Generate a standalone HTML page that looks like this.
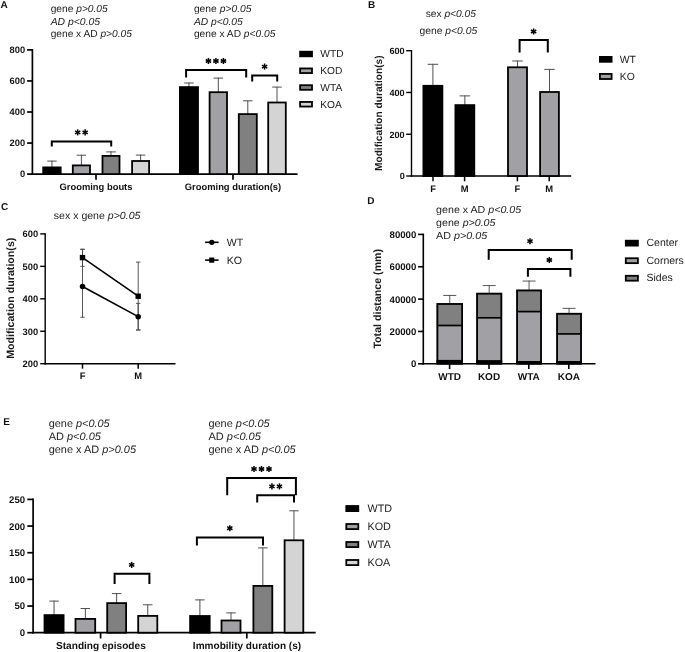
<!DOCTYPE html>
<html><head><meta charset="utf-8"><title>Figure</title>
<style>
html,body{margin:0;padding:0;background:#fff;width:685px;height:652px;overflow:hidden;}
svg{display:block;font-family:"Liberation Sans", sans-serif;text-rendering:geometricPrecision;will-change:transform;}
</style></head><body>
<svg width="685" height="652" viewBox="0 0 685 652" font-family="Liberation Sans">
<text x="0.6" y="7.9" font-size="10" font-weight="bold" text-anchor="start" fill="#111" >A</text>
<text x="368.1" y="7.9" font-size="10" font-weight="bold" text-anchor="start" fill="#111" >B</text>
<text x="1.0" y="209.6" font-size="10" font-weight="bold" text-anchor="start" fill="#111" >C</text>
<text x="367.2" y="203.6" font-size="10" font-weight="bold" text-anchor="start" fill="#111" >D</text>
<text x="3.2" y="425.2" font-size="10" font-weight="bold" text-anchor="start" fill="#111" >E</text>
<line x1="32.4" y1="49.050000000000004" x2="32.4" y2="174.95" stroke="#000" stroke-width="1.7" stroke-linecap="butt"/>
<line x1="27.099999999999998" y1="49.900000000000006" x2="32.4" y2="49.900000000000006" stroke="#000" stroke-width="1.7" stroke-linecap="butt"/>
<text x="25.099999999999998" y="53.248000000000005" font-size="9.3" font-weight="bold" text-anchor="end" fill="#111" >800</text>
<line x1="27.099999999999998" y1="80.94999999999999" x2="32.4" y2="80.94999999999999" stroke="#000" stroke-width="1.7" stroke-linecap="butt"/>
<text x="25.099999999999998" y="84.29799999999999" font-size="9.3" font-weight="bold" text-anchor="end" fill="#111" >600</text>
<line x1="27.099999999999998" y1="112.0" x2="32.4" y2="112.0" stroke="#000" stroke-width="1.7" stroke-linecap="butt"/>
<text x="25.099999999999998" y="115.348" font-size="9.3" font-weight="bold" text-anchor="end" fill="#111" >400</text>
<line x1="27.099999999999998" y1="143.05" x2="32.4" y2="143.05" stroke="#000" stroke-width="1.7" stroke-linecap="butt"/>
<text x="25.099999999999998" y="146.39800000000002" font-size="9.3" font-weight="bold" text-anchor="end" fill="#111" >200</text>
<line x1="27.099999999999998" y1="174.1" x2="32.4" y2="174.1" stroke="#000" stroke-width="1.7" stroke-linecap="butt"/>
<text x="25.099999999999998" y="177.448" font-size="9.3" font-weight="bold" text-anchor="end" fill="#111" >0</text>
<line x1="31.55" y1="174.1" x2="297.6" y2="174.1" stroke="#000" stroke-width="1.7" stroke-linecap="butt"/>
<line x1="96.0" y1="174.1" x2="96.0" y2="179.8" stroke="#000" stroke-width="1.7" stroke-linecap="butt"/>
<line x1="233.0" y1="174.1" x2="233.0" y2="179.8" stroke="#000" stroke-width="1.7" stroke-linecap="butt"/>
<line x1="51.95" y1="167.5" x2="51.95" y2="160.6" stroke="#505050" stroke-width="1.0" stroke-linecap="butt"/>
<line x1="47.2" y1="161.1" x2="56.7" y2="161.1" stroke="#505050" stroke-width="1.0" stroke-linecap="butt"/>
<rect x="43.199999999999996" y="167.4" width="17.500000000000004" height="6.699999999999994" fill="#000" stroke="#000" stroke-width="1.8"/>
<line x1="81.4" y1="165.5" x2="81.4" y2="154.7" stroke="#505050" stroke-width="1.0" stroke-linecap="butt"/>
<line x1="76.65" y1="155.2" x2="86.15" y2="155.2" stroke="#505050" stroke-width="1.0" stroke-linecap="butt"/>
<rect x="72.80000000000001" y="165.4" width="17.2" height="8.699999999999994" fill="#a1a0a5" stroke="#000" stroke-width="1.8"/>
<line x1="111.0" y1="156.0" x2="111.0" y2="151.4" stroke="#505050" stroke-width="1.0" stroke-linecap="butt"/>
<line x1="106.25" y1="151.9" x2="115.75" y2="151.9" stroke="#505050" stroke-width="1.0" stroke-linecap="butt"/>
<rect x="102.5" y="155.9" width="17.00000000000001" height="18.199999999999996" fill="#808080" stroke="#000" stroke-width="1.8"/>
<line x1="140.6" y1="161.1" x2="140.6" y2="154.6" stroke="#505050" stroke-width="1.0" stroke-linecap="butt"/>
<line x1="135.85" y1="155.1" x2="145.35" y2="155.1" stroke="#505050" stroke-width="1.0" stroke-linecap="butt"/>
<rect x="132.1" y="161.0" width="17.00000000000001" height="13.1" fill="#d4d4d4" stroke="#000" stroke-width="1.8"/>
<line x1="188.95" y1="87.2" x2="188.95" y2="82.5" stroke="#505050" stroke-width="1.0" stroke-linecap="butt"/>
<line x1="184.2" y1="83.0" x2="193.7" y2="83.0" stroke="#505050" stroke-width="1.0" stroke-linecap="butt"/>
<rect x="179.9" y="87.10000000000001" width="18.100000000000005" height="86.99999999999999" fill="#000" stroke="#000" stroke-width="1.8"/>
<line x1="218.3" y1="92.3" x2="218.3" y2="77.6" stroke="#505050" stroke-width="1.0" stroke-linecap="butt"/>
<line x1="213.55" y1="78.1" x2="223.05" y2="78.1" stroke="#505050" stroke-width="1.0" stroke-linecap="butt"/>
<rect x="209.6" y="92.2" width="17.400000000000016" height="81.89999999999999" fill="#a1a0a5" stroke="#000" stroke-width="1.8"/>
<line x1="247.8" y1="114.2" x2="247.8" y2="100.3" stroke="#505050" stroke-width="1.0" stroke-linecap="butt"/>
<line x1="243.05" y1="100.8" x2="252.55" y2="100.8" stroke="#505050" stroke-width="1.0" stroke-linecap="butt"/>
<rect x="238.8" y="114.10000000000001" width="17.999999999999982" height="59.99999999999999" fill="#808080" stroke="#000" stroke-width="1.8"/>
<line x1="277.0" y1="102.6" x2="277.0" y2="86.6" stroke="#505050" stroke-width="1.0" stroke-linecap="butt"/>
<line x1="272.25" y1="87.1" x2="281.75" y2="87.1" stroke="#505050" stroke-width="1.0" stroke-linecap="butt"/>
<rect x="268.2" y="102.5" width="17.599999999999977" height="71.6" fill="#d4d4d4" stroke="#000" stroke-width="1.8"/>
<path d="M51.8 146.5 L51.8 141.4 L111.2 141.4 L111.2 146.5" fill="none" stroke="#000" stroke-width="2" stroke-linejoin="miter"/>
<line x1="77.65" y1="129.35" x2="77.65" y2="135.45" stroke="#000" stroke-width="1.5" stroke-linecap="butt"/>
<line x1="75.01" y1="130.88" x2="80.29" y2="133.93" stroke="#000" stroke-width="1.5" stroke-linecap="butt"/>
<line x1="80.29" y1="130.88" x2="75.01" y2="133.93" stroke="#000" stroke-width="1.5" stroke-linecap="butt"/>
<line x1="85.15" y1="129.35" x2="85.15" y2="135.45" stroke="#000" stroke-width="1.5" stroke-linecap="butt"/>
<line x1="82.51" y1="130.88" x2="87.79" y2="133.93" stroke="#000" stroke-width="1.5" stroke-linecap="butt"/>
<line x1="87.79" y1="130.88" x2="82.51" y2="133.93" stroke="#000" stroke-width="1.5" stroke-linecap="butt"/>
<path d="M186.1 77.6 L186.1 69.9 L246.2 69.9 L246.2 77.6" fill="none" stroke="#000" stroke-width="2" stroke-linejoin="miter"/>
<line x1="208.4" y1="57.95" x2="208.4" y2="64.05" stroke="#000" stroke-width="1.5" stroke-linecap="butt"/>
<line x1="205.76" y1="59.48" x2="211.04" y2="62.52" stroke="#000" stroke-width="1.5" stroke-linecap="butt"/>
<line x1="211.04" y1="59.48" x2="205.76" y2="62.52" stroke="#000" stroke-width="1.5" stroke-linecap="butt"/>
<line x1="215.9" y1="57.95" x2="215.9" y2="64.05" stroke="#000" stroke-width="1.5" stroke-linecap="butt"/>
<line x1="213.26" y1="59.48" x2="218.54" y2="62.52" stroke="#000" stroke-width="1.5" stroke-linecap="butt"/>
<line x1="218.54" y1="59.48" x2="213.26" y2="62.52" stroke="#000" stroke-width="1.5" stroke-linecap="butt"/>
<line x1="223.4" y1="57.95" x2="223.4" y2="64.05" stroke="#000" stroke-width="1.5" stroke-linecap="butt"/>
<line x1="220.76" y1="59.48" x2="226.04" y2="62.52" stroke="#000" stroke-width="1.5" stroke-linecap="butt"/>
<line x1="226.04" y1="59.48" x2="220.76" y2="62.52" stroke="#000" stroke-width="1.5" stroke-linecap="butt"/>
<path d="M252.2 81.6 L252.2 75.5 L277.2 75.5 L277.2 81.6" fill="none" stroke="#000" stroke-width="2" stroke-linejoin="miter"/>
<line x1="264.6" y1="63.55" x2="264.6" y2="69.65" stroke="#000" stroke-width="1.5" stroke-linecap="butt"/>
<line x1="261.96" y1="65.07" x2="267.24" y2="68.12" stroke="#000" stroke-width="1.5" stroke-linecap="butt"/>
<line x1="267.24" y1="65.07" x2="261.96" y2="68.12" stroke="#000" stroke-width="1.5" stroke-linecap="butt"/>
<text x="96.0" y="189.6" font-size="9.4" font-weight="bold" text-anchor="middle" fill="#111" >Grooming bouts</text>
<text x="233.0" y="189.6" font-size="9.4" font-weight="bold" text-anchor="middle" fill="#111" >Grooming duration(s)</text>
<rect x="300.09999999999997" y="51.699999999999996" width="11.899999999999999" height="4.6000000000000005" fill="#000" stroke="#000" stroke-width="1.8"/>
<text x="320.3" y="57.3" font-size="10.2" font-weight="normal" text-anchor="start" fill="#222" >WTD</text>
<rect x="300.09999999999997" y="68.45" width="11.899999999999999" height="4.6000000000000005" fill="#a1a0a5" stroke="#000" stroke-width="1.8"/>
<text x="320.3" y="74.05" font-size="10.2" font-weight="normal" text-anchor="start" fill="#222" >KOD</text>
<rect x="300.09999999999997" y="85.2" width="11.899999999999999" height="4.6000000000000005" fill="#808080" stroke="#000" stroke-width="1.8"/>
<text x="320.3" y="90.8" font-size="10.2" font-weight="normal" text-anchor="start" fill="#222" >WTA</text>
<rect x="300.09999999999997" y="101.95" width="11.899999999999999" height="4.6000000000000005" fill="#d4d4d4" stroke="#000" stroke-width="1.8"/>
<text x="320.3" y="107.55" font-size="10.2" font-weight="normal" text-anchor="start" fill="#222" >KOA</text>
<text x="50.7" y="12.3" font-size="10.2" fill="#1c1c1c" xml:space="preserve" textLength="57.0" lengthAdjust="spacingAndGlyphs"><tspan>gene </tspan><tspan font-style="italic">p&gt;0.05</tspan></text>
<text x="50.7" y="24.5" font-size="10.2" fill="#1c1c1c" xml:space="preserve" textLength="49.4" lengthAdjust="spacingAndGlyphs"><tspan font-style="italic">AD p&lt;0.05</tspan></text>
<text x="50.7" y="37.2" font-size="10.2" fill="#1c1c1c" xml:space="preserve" textLength="81.1" lengthAdjust="spacingAndGlyphs"><tspan>gene x AD </tspan><tspan font-style="italic">p&gt;0.05</tspan></text>
<text x="193.9" y="12.3" font-size="10.2" fill="#1c1c1c" xml:space="preserve" textLength="57.6" lengthAdjust="spacingAndGlyphs"><tspan>gene </tspan><tspan font-style="italic">p&gt;0.05</tspan></text>
<text x="193.9" y="24.5" font-size="10.2" fill="#1c1c1c" xml:space="preserve" textLength="48.8" lengthAdjust="spacingAndGlyphs"><tspan font-style="italic">AD p&lt;0.05</tspan></text>
<text x="193.9" y="37.2" font-size="10.2" fill="#1c1c1c" xml:space="preserve" textLength="81.5" lengthAdjust="spacingAndGlyphs"><tspan>gene x AD </tspan><tspan font-style="italic">p&lt;0.05</tspan></text>
<line x1="411.5" y1="50.0" x2="411.5" y2="176.7" stroke="#000" stroke-width="1.4" stroke-linecap="butt"/>
<line x1="406.2" y1="50.7" x2="411.5" y2="50.7" stroke="#000" stroke-width="1.4" stroke-linecap="butt"/>
<text x="404.7" y="53.976" font-size="9.1" font-weight="bold" text-anchor="end" fill="#111" >600</text>
<line x1="406.2" y1="92.46666666666667" x2="411.5" y2="92.46666666666667" stroke="#000" stroke-width="1.4" stroke-linecap="butt"/>
<text x="404.7" y="95.74266666666666" font-size="9.1" font-weight="bold" text-anchor="end" fill="#111" >400</text>
<line x1="406.2" y1="134.23333333333335" x2="411.5" y2="134.23333333333335" stroke="#000" stroke-width="1.4" stroke-linecap="butt"/>
<text x="404.7" y="137.50933333333336" font-size="9.1" font-weight="bold" text-anchor="end" fill="#111" >200</text>
<line x1="406.2" y1="176.0" x2="411.5" y2="176.0" stroke="#000" stroke-width="1.4" stroke-linecap="butt"/>
<text x="404.7" y="179.276" font-size="9.1" font-weight="bold" text-anchor="end" fill="#111" >0</text>
<line x1="410.8" y1="176.0" x2="571.2" y2="176.0" stroke="#000" stroke-width="1.4" stroke-linecap="butt"/>
<line x1="433.0" y1="176.0" x2="433.0" y2="181.3" stroke="#000" stroke-width="1.5" stroke-linecap="butt"/>
<line x1="464.6" y1="176.0" x2="464.6" y2="181.3" stroke="#000" stroke-width="1.5" stroke-linecap="butt"/>
<line x1="517.4" y1="176.0" x2="517.4" y2="181.3" stroke="#000" stroke-width="1.5" stroke-linecap="butt"/>
<line x1="549.2" y1="176.0" x2="549.2" y2="181.3" stroke="#000" stroke-width="1.5" stroke-linecap="butt"/>
<line x1="432.9" y1="85.9" x2="432.9" y2="63.8" stroke="#505050" stroke-width="1.0" stroke-linecap="butt"/>
<line x1="427.65" y1="64.3" x2="438.15" y2="64.3" stroke="#505050" stroke-width="1.0" stroke-linecap="butt"/>
<rect x="423.4" y="85.80000000000001" width="19.00000000000001" height="90.19999999999999" fill="#000" stroke="#000" stroke-width="1.8"/>
<line x1="464.85" y1="105.2" x2="464.85" y2="95.4" stroke="#505050" stroke-width="1.0" stroke-linecap="butt"/>
<line x1="459.6" y1="95.9" x2="470.1" y2="95.9" stroke="#505050" stroke-width="1.0" stroke-linecap="butt"/>
<rect x="455.4" y="105.10000000000001" width="18.899999999999988" height="70.89999999999999" fill="#000" stroke="#000" stroke-width="1.8"/>
<line x1="517.5" y1="67.4" x2="517.5" y2="60.5" stroke="#505050" stroke-width="1.0" stroke-linecap="butt"/>
<line x1="512.25" y1="61.0" x2="522.75" y2="61.0" stroke="#505050" stroke-width="1.0" stroke-linecap="butt"/>
<rect x="508.0" y="67.30000000000001" width="18.999999999999954" height="108.69999999999999" fill="#a1a0a5" stroke="#000" stroke-width="1.8"/>
<line x1="549.5" y1="92.1" x2="549.5" y2="68.9" stroke="#505050" stroke-width="1.0" stroke-linecap="butt"/>
<line x1="544.25" y1="69.4" x2="554.75" y2="69.4" stroke="#505050" stroke-width="1.0" stroke-linecap="butt"/>
<rect x="540.1" y="92.0" width="18.79999999999991" height="84.0" fill="#a1a0a5" stroke="#000" stroke-width="1.8"/>
<path d="M519.6 52.6 L519.6 40.1 L547.8 40.1 L547.8 52.6" fill="none" stroke="#000" stroke-width="2" stroke-linejoin="miter"/>
<line x1="533.6" y1="28.45" x2="533.6" y2="34.55" stroke="#000" stroke-width="1.5" stroke-linecap="butt"/>
<line x1="530.96" y1="29.98" x2="536.24" y2="33.02" stroke="#000" stroke-width="1.5" stroke-linecap="butt"/>
<line x1="536.24" y1="29.98" x2="530.96" y2="33.02" stroke="#000" stroke-width="1.5" stroke-linecap="butt"/>
<text x="433.0" y="191.8" font-size="9.4" font-weight="bold" text-anchor="middle" fill="#111" >F</text>
<text x="464.6" y="191.8" font-size="9.4" font-weight="bold" text-anchor="middle" fill="#111" >M</text>
<text x="517.4" y="191.8" font-size="9.4" font-weight="bold" text-anchor="middle" fill="#111" >F</text>
<text x="549.2" y="191.8" font-size="9.4" font-weight="bold" text-anchor="middle" fill="#111" >M</text>
<text transform="translate(382.2 113.2) rotate(-90)" font-size="10.17" font-weight="bold" text-anchor="middle" fill="#1a1a1a">Modification duration(s)</text>
<rect x="599.9" y="56.9" width="11.7" height="4.9" fill="#000" stroke="#000" stroke-width="1.8"/>
<rect x="599.9" y="73.9" width="11.7" height="5.1000000000000005" fill="#a1a0a5" stroke="#000" stroke-width="1.8"/>
<text x="619.8" y="62.7" font-size="10.4" font-weight="normal" text-anchor="start" fill="#222" >WT</text>
<text x="619.8" y="79.6" font-size="10.4" font-weight="normal" text-anchor="start" fill="#222" >KO</text>
<text x="425.7" y="16.5" font-size="10.2" fill="#1c1c1c" xml:space="preserve" textLength="50.3" lengthAdjust="spacingAndGlyphs"><tspan>sex </tspan><tspan font-style="italic">p&lt;0.05</tspan></text>
<text x="419.6" y="34.0" font-size="10.2" fill="#1c1c1c" xml:space="preserve" textLength="57.6" lengthAdjust="spacingAndGlyphs"><tspan>gene </tspan><tspan font-style="italic">p&lt;0.05</tspan></text>
<line x1="45.2" y1="233.20000000000002" x2="45.2" y2="364.4" stroke="#000" stroke-width="1.4" stroke-linecap="butt"/>
<line x1="40.2" y1="233.9" x2="45.2" y2="233.9" stroke="#000" stroke-width="1.4" stroke-linecap="butt"/>
<text x="38.1" y="237.24800000000002" font-size="9.3" font-weight="bold" text-anchor="end" fill="#111" >600</text>
<line x1="40.2" y1="266.35" x2="45.2" y2="266.35" stroke="#000" stroke-width="1.4" stroke-linecap="butt"/>
<text x="38.1" y="269.69800000000004" font-size="9.3" font-weight="bold" text-anchor="end" fill="#111" >500</text>
<line x1="40.2" y1="298.8" x2="45.2" y2="298.8" stroke="#000" stroke-width="1.4" stroke-linecap="butt"/>
<text x="38.1" y="302.148" font-size="9.3" font-weight="bold" text-anchor="end" fill="#111" >400</text>
<line x1="40.2" y1="331.25" x2="45.2" y2="331.25" stroke="#000" stroke-width="1.4" stroke-linecap="butt"/>
<text x="38.1" y="334.598" font-size="9.3" font-weight="bold" text-anchor="end" fill="#111" >300</text>
<line x1="40.2" y1="363.7" x2="45.2" y2="363.7" stroke="#000" stroke-width="1.4" stroke-linecap="butt"/>
<text x="38.1" y="367.048" font-size="9.3" font-weight="bold" text-anchor="end" fill="#111" >200</text>
<line x1="44.5" y1="363.7" x2="175.5" y2="363.7" stroke="#000" stroke-width="1.4" stroke-linecap="butt"/>
<line x1="82.5" y1="363.7" x2="82.5" y2="368.7" stroke="#000" stroke-width="1.5" stroke-linecap="butt"/>
<line x1="138.2" y1="363.7" x2="138.2" y2="368.7" stroke="#000" stroke-width="1.5" stroke-linecap="butt"/>
<line x1="82.5" y1="249.1515" x2="82.5" y2="317.2965" stroke="#444" stroke-width="0.9" stroke-linecap="butt"/>
<line x1="80.3" y1="249.1515" x2="84.7" y2="249.1515" stroke="#444" stroke-width="0.9" stroke-linecap="butt"/>
<line x1="80.3" y1="317.2965" x2="84.7" y2="317.2965" stroke="#444" stroke-width="0.9" stroke-linecap="butt"/>
<line x1="82.5" y1="249.476" x2="82.5" y2="266.35" stroke="#444" stroke-width="0.9" stroke-linecap="butt"/>
<line x1="80.3" y1="249.476" x2="84.7" y2="249.476" stroke="#444" stroke-width="0.9" stroke-linecap="butt"/>
<line x1="80.3" y1="266.35" x2="84.7" y2="266.35" stroke="#444" stroke-width="0.9" stroke-linecap="butt"/>
<line x1="138.2" y1="262.1315" x2="138.2" y2="329.952" stroke="#444" stroke-width="0.9" stroke-linecap="butt"/>
<line x1="136.0" y1="262.1315" x2="140.39999999999998" y2="262.1315" stroke="#444" stroke-width="0.9" stroke-linecap="butt"/>
<line x1="136.0" y1="329.952" x2="140.39999999999998" y2="329.952" stroke="#444" stroke-width="0.9" stroke-linecap="butt"/>
<line x1="138.2" y1="303.343" x2="138.2" y2="329.952" stroke="#444" stroke-width="0.9" stroke-linecap="butt"/>
<line x1="136.0" y1="303.343" x2="140.39999999999998" y2="303.343" stroke="#444" stroke-width="0.9" stroke-linecap="butt"/>
<line x1="136.0" y1="329.952" x2="140.39999999999998" y2="329.952" stroke="#444" stroke-width="0.9" stroke-linecap="butt"/>
<line x1="82.5" y1="257.5885" x2="138.2" y2="296.204" stroke="#000" stroke-width="1.6" stroke-linecap="butt"/>
<line x1="82.5" y1="286.469" x2="138.2" y2="316.6475" stroke="#000" stroke-width="1.6" stroke-linecap="butt"/>
<rect x="79.8" y="254.88850000000002" width="5.4" height="5.4" fill="#000"/>
<rect x="135.5" y="293.504" width="5.4" height="5.4" fill="#000"/>
<circle cx="82.5" cy="286.469" r="2.75" fill="#000"/>
<circle cx="138.2" cy="316.6475" r="2.75" fill="#000"/>
<text x="82.5" y="379.0" font-size="9.4" font-weight="bold" text-anchor="middle" fill="#111" >F</text>
<text x="138.2" y="379.0" font-size="9.4" font-weight="bold" text-anchor="middle" fill="#111" >M</text>
<text transform="translate(14.3 298.2) rotate(-90)" font-size="10.65" font-weight="bold" text-anchor="middle" fill="#1a1a1a">Modification duration(s)</text>
<text x="53.8" y="218.8" font-size="10.4" fill="#1c1c1c" xml:space="preserve" textLength="86.6" lengthAdjust="spacingAndGlyphs"><tspan>sex x gene </tspan><tspan font-style="italic">p&gt;0.05</tspan></text>
<line x1="205.1" y1="242.3" x2="218.6" y2="242.3" stroke="#000" stroke-width="1.6" stroke-linecap="butt"/>
<circle cx="211.8" cy="242.3" r="2.65" fill="#000"/>
<line x1="205.1" y1="260.1" x2="218.6" y2="260.1" stroke="#000" stroke-width="1.6" stroke-linecap="butt"/>
<rect x="209.2" y="257.5" width="5.1" height="5.2" fill="#000"/>
<text x="226.8" y="246.0" font-size="10.6" font-weight="normal" text-anchor="start" fill="#222" >WT</text>
<text x="226.8" y="263.6" font-size="10.6" font-weight="normal" text-anchor="start" fill="#222" >KO</text>
<line x1="423.3" y1="233.6" x2="423.3" y2="364.6" stroke="#000" stroke-width="1.6" stroke-linecap="butt"/>
<line x1="418.1" y1="234.4" x2="423.3" y2="234.4" stroke="#000" stroke-width="1.6" stroke-linecap="butt"/>
<text x="416.3" y="237.874" font-size="9.65" font-weight="bold" text-anchor="end" fill="#111" >80000</text>
<line x1="418.1" y1="266.75" x2="423.3" y2="266.75" stroke="#000" stroke-width="1.6" stroke-linecap="butt"/>
<text x="416.3" y="270.224" font-size="9.65" font-weight="bold" text-anchor="end" fill="#111" >60000</text>
<line x1="418.1" y1="299.1" x2="423.3" y2="299.1" stroke="#000" stroke-width="1.6" stroke-linecap="butt"/>
<text x="416.3" y="302.574" font-size="9.65" font-weight="bold" text-anchor="end" fill="#111" >40000</text>
<line x1="418.1" y1="331.45" x2="423.3" y2="331.45" stroke="#000" stroke-width="1.6" stroke-linecap="butt"/>
<text x="416.3" y="334.924" font-size="9.65" font-weight="bold" text-anchor="end" fill="#111" >20000</text>
<line x1="418.1" y1="363.8" x2="423.3" y2="363.8" stroke="#000" stroke-width="1.6" stroke-linecap="butt"/>
<text x="416.3" y="367.274" font-size="9.65" font-weight="bold" text-anchor="end" fill="#111" >0</text>
<line x1="422.5" y1="363.8" x2="595.5" y2="363.8" stroke="#000" stroke-width="1.6" stroke-linecap="butt"/>
<line x1="449.75" y1="304.1" x2="449.75" y2="295.0" stroke="#444" stroke-width="0.9" stroke-linecap="butt"/>
<line x1="443.25" y1="295.45" x2="456.25" y2="295.45" stroke="#444" stroke-width="0.9" stroke-linecap="butt"/>
<rect x="436.5" y="303.1" width="26.5" height="22.399999999999977" fill="#808080"/>
<rect x="436.5" y="325.5" width="26.5" height="38.30000000000001" fill="#a1a0a5"/>
<rect x="436.5" y="359.90000000000003" width="26.5" height="3.9" fill="#000"/>
<line x1="437.4" y1="325.5" x2="462.1" y2="325.5" stroke="#000" stroke-width="1.7" stroke-linecap="butt"/>
<rect x="437.4" y="304.0" width="24.7" height="59.79999999999999" fill="none" stroke="#000" stroke-width="1.8"/>
<line x1="489.2" y1="293.8" x2="489.2" y2="285.1" stroke="#444" stroke-width="0.9" stroke-linecap="butt"/>
<line x1="482.7" y1="285.55" x2="495.7" y2="285.55" stroke="#444" stroke-width="0.9" stroke-linecap="butt"/>
<rect x="476.2" y="292.8" width="26.0" height="25.0" fill="#808080"/>
<rect x="476.2" y="317.8" width="26.0" height="46.0" fill="#a1a0a5"/>
<rect x="476.2" y="360.1" width="26.0" height="3.7" fill="#000"/>
<line x1="477.09999999999997" y1="317.8" x2="501.3" y2="317.8" stroke="#000" stroke-width="1.7" stroke-linecap="butt"/>
<rect x="477.09999999999997" y="293.7" width="24.2" height="70.1" fill="none" stroke="#000" stroke-width="1.8"/>
<line x1="529.05" y1="290.6" x2="529.05" y2="280.6" stroke="#444" stroke-width="0.9" stroke-linecap="butt"/>
<line x1="522.55" y1="281.05" x2="535.55" y2="281.05" stroke="#444" stroke-width="0.9" stroke-linecap="butt"/>
<rect x="516.2" y="289.6" width="25.699999999999932" height="22.0" fill="#808080"/>
<rect x="516.2" y="311.6" width="25.699999999999932" height="52.19999999999999" fill="#a1a0a5"/>
<rect x="516.2" y="361.0" width="25.699999999999932" height="2.8" fill="#000"/>
<line x1="517.1" y1="311.6" x2="541.0" y2="311.6" stroke="#000" stroke-width="1.7" stroke-linecap="butt"/>
<rect x="517.1" y="290.5" width="23.89999999999993" height="73.29999999999998" fill="none" stroke="#000" stroke-width="1.8"/>
<line x1="569.05" y1="313.9" x2="569.05" y2="307.9" stroke="#444" stroke-width="0.9" stroke-linecap="butt"/>
<line x1="562.55" y1="308.34999999999997" x2="575.55" y2="308.34999999999997" stroke="#444" stroke-width="0.9" stroke-linecap="butt"/>
<rect x="556.2" y="312.9" width="25.699999999999932" height="21.0" fill="#808080"/>
<rect x="556.2" y="333.9" width="25.699999999999932" height="29.900000000000034" fill="#a1a0a5"/>
<rect x="556.2" y="361.0" width="25.699999999999932" height="2.8" fill="#000"/>
<line x1="557.1" y1="333.9" x2="581.0" y2="333.9" stroke="#000" stroke-width="1.7" stroke-linecap="butt"/>
<rect x="557.1" y="313.79999999999995" width="23.89999999999993" height="50.000000000000036" fill="none" stroke="#000" stroke-width="1.8"/>
<line x1="449.6" y1="363.8" x2="449.6" y2="369.1" stroke="#000" stroke-width="1.6" stroke-linecap="butt"/>
<text x="449.6" y="379.8" font-size="10" font-weight="bold" text-anchor="middle" fill="#111" >WTD</text>
<line x1="489.0" y1="363.8" x2="489.0" y2="369.1" stroke="#000" stroke-width="1.6" stroke-linecap="butt"/>
<text x="489.0" y="379.8" font-size="10" font-weight="bold" text-anchor="middle" fill="#111" >KOD</text>
<line x1="528.8" y1="363.8" x2="528.8" y2="369.1" stroke="#000" stroke-width="1.6" stroke-linecap="butt"/>
<text x="528.8" y="379.8" font-size="10" font-weight="bold" text-anchor="middle" fill="#111" >WTA</text>
<line x1="568.8" y1="363.8" x2="568.8" y2="369.1" stroke="#000" stroke-width="1.6" stroke-linecap="butt"/>
<text x="568.8" y="379.8" font-size="10" font-weight="bold" text-anchor="middle" fill="#111" >KOA</text>
<path d="M488.7 259.8 L488.7 250.0 L571.7 250.0 L571.7 259.8" fill="none" stroke="#000" stroke-width="2" stroke-linejoin="miter"/>
<line x1="530.0" y1="238.15" x2="530.0" y2="244.25" stroke="#000" stroke-width="1.5" stroke-linecap="butt"/>
<line x1="527.36" y1="239.67" x2="532.64" y2="242.72" stroke="#000" stroke-width="1.5" stroke-linecap="butt"/>
<line x1="532.64" y1="239.67" x2="527.36" y2="242.72" stroke="#000" stroke-width="1.5" stroke-linecap="butt"/>
<path d="M527.9 276.8 L527.9 268.9 L570.4 268.9 L570.4 276.8" fill="none" stroke="#000" stroke-width="2" stroke-linejoin="miter"/>
<line x1="549.3" y1="256.95" x2="549.3" y2="263.05" stroke="#000" stroke-width="1.5" stroke-linecap="butt"/>
<line x1="546.66" y1="258.48" x2="551.94" y2="261.52" stroke="#000" stroke-width="1.5" stroke-linecap="butt"/>
<line x1="551.94" y1="258.48" x2="546.66" y2="261.52" stroke="#000" stroke-width="1.5" stroke-linecap="butt"/>
<text transform="translate(380.8 298.75) rotate(-90)" font-size="10.65" font-weight="bold" text-anchor="middle" fill="#1a1a1a">Total distance (mm)</text>
<rect x="625.8" y="240.70000000000002" width="12.1" height="4.9" fill="#000" stroke="#000" stroke-width="1.8"/>
<text x="646.5" y="246.20000000000002" font-size="10.5" font-weight="normal" text-anchor="start" fill="#222" >Center</text>
<rect x="625.8" y="258.25" width="12.1" height="4.9" fill="#a1a0a5" stroke="#000" stroke-width="1.8"/>
<text x="646.5" y="263.75" font-size="10.5" font-weight="normal" text-anchor="start" fill="#222" >Corners</text>
<rect x="625.8" y="275.8" width="12.1" height="4.9" fill="#808080" stroke="#000" stroke-width="1.8"/>
<text x="646.5" y="281.3" font-size="10.5" font-weight="normal" text-anchor="start" fill="#222" >Sides</text>
<text x="436.1" y="213.4" font-size="10.2" fill="#1c1c1c" xml:space="preserve" textLength="85.1" lengthAdjust="spacingAndGlyphs"><tspan>gene x AD </tspan><tspan font-style="italic">p&lt;0.05</tspan></text>
<text x="436.1" y="226.0" font-size="10.2" fill="#1c1c1c" xml:space="preserve" textLength="59.3" lengthAdjust="spacingAndGlyphs"><tspan>gene </tspan><tspan font-style="italic">p&gt;0.05</tspan></text>
<text x="436.1" y="238.7" font-size="10.2" fill="#1c1c1c" xml:space="preserve" textLength="51.1" lengthAdjust="spacingAndGlyphs"><tspan>AD </tspan><tspan font-style="italic">p&gt;0.05</tspan></text>
<line x1="33.1" y1="498.54999999999995" x2="33.1" y2="633.5500000000001" stroke="#000" stroke-width="1.7" stroke-linecap="butt"/>
<line x1="27.3" y1="499.4" x2="33.1" y2="499.4" stroke="#000" stroke-width="1.7" stroke-linecap="butt"/>
<text x="25.1" y="502.856" font-size="9.6" font-weight="bold" text-anchor="end" fill="#111" >250</text>
<line x1="27.3" y1="526.06" x2="33.1" y2="526.06" stroke="#000" stroke-width="1.7" stroke-linecap="butt"/>
<text x="25.1" y="529.516" font-size="9.6" font-weight="bold" text-anchor="end" fill="#111" >200</text>
<line x1="27.3" y1="552.72" x2="33.1" y2="552.72" stroke="#000" stroke-width="1.7" stroke-linecap="butt"/>
<text x="25.1" y="556.176" font-size="9.6" font-weight="bold" text-anchor="end" fill="#111" >150</text>
<line x1="27.3" y1="579.38" x2="33.1" y2="579.38" stroke="#000" stroke-width="1.7" stroke-linecap="butt"/>
<text x="25.1" y="582.836" font-size="9.6" font-weight="bold" text-anchor="end" fill="#111" >100</text>
<line x1="27.3" y1="606.0400000000001" x2="33.1" y2="606.0400000000001" stroke="#000" stroke-width="1.7" stroke-linecap="butt"/>
<text x="25.1" y="609.4960000000001" font-size="9.6" font-weight="bold" text-anchor="end" fill="#111" >50</text>
<line x1="27.3" y1="632.7" x2="33.1" y2="632.7" stroke="#000" stroke-width="1.7" stroke-linecap="butt"/>
<text x="25.1" y="636.1560000000001" font-size="9.6" font-weight="bold" text-anchor="end" fill="#111" >0</text>
<line x1="32.25" y1="632.7" x2="315.7" y2="632.7" stroke="#000" stroke-width="1.7" stroke-linecap="butt"/>
<line x1="100.6" y1="632.7" x2="100.6" y2="638.5" stroke="#000" stroke-width="1.7" stroke-linecap="butt"/>
<line x1="246.8" y1="632.7" x2="246.8" y2="638.5" stroke="#000" stroke-width="1.7" stroke-linecap="butt"/>
<line x1="54.05" y1="615.2" x2="54.05" y2="600.6" stroke="#505050" stroke-width="1.0" stroke-linecap="butt"/>
<line x1="49.3" y1="601.1" x2="58.8" y2="601.1" stroke="#505050" stroke-width="1.0" stroke-linecap="butt"/>
<rect x="44.5" y="615.1" width="19.099999999999998" height="17.6" fill="#000" stroke="#000" stroke-width="1.8"/>
<line x1="85.35" y1="619.0" x2="85.35" y2="608.0" stroke="#505050" stroke-width="1.0" stroke-linecap="butt"/>
<line x1="80.6" y1="608.5" x2="90.1" y2="608.5" stroke="#505050" stroke-width="1.0" stroke-linecap="butt"/>
<rect x="75.5" y="618.9" width="19.7" height="13.800000000000045" fill="#a1a0a5" stroke="#000" stroke-width="1.8"/>
<line x1="116.65" y1="603.2" x2="116.65" y2="593.1" stroke="#505050" stroke-width="1.0" stroke-linecap="butt"/>
<line x1="111.9" y1="593.6" x2="121.4" y2="593.6" stroke="#505050" stroke-width="1.0" stroke-linecap="butt"/>
<rect x="107.2" y="603.1" width="18.900000000000002" height="29.6" fill="#808080" stroke="#000" stroke-width="1.8"/>
<line x1="147.75" y1="616.0" x2="147.75" y2="604.3" stroke="#505050" stroke-width="1.0" stroke-linecap="butt"/>
<line x1="143.0" y1="604.8" x2="152.5" y2="604.8" stroke="#505050" stroke-width="1.0" stroke-linecap="butt"/>
<rect x="138.20000000000002" y="615.9" width="19.099999999999977" height="16.800000000000047" fill="#d4d4d4" stroke="#000" stroke-width="1.8"/>
<line x1="199.89999999999998" y1="616.1" x2="199.89999999999998" y2="599.4" stroke="#505050" stroke-width="1.0" stroke-linecap="butt"/>
<line x1="195.14999999999998" y1="599.9" x2="204.64999999999998" y2="599.9" stroke="#505050" stroke-width="1.0" stroke-linecap="butt"/>
<rect x="190.1" y="616.0" width="19.600000000000005" height="16.700000000000024" fill="#000" stroke="#000" stroke-width="1.8"/>
<line x1="231.0" y1="620.6" x2="231.0" y2="612.4" stroke="#505050" stroke-width="1.0" stroke-linecap="butt"/>
<line x1="226.25" y1="612.9" x2="235.75" y2="612.9" stroke="#505050" stroke-width="1.0" stroke-linecap="butt"/>
<rect x="221.5" y="620.5" width="19.00000000000001" height="12.200000000000022" fill="#a1a0a5" stroke="#000" stroke-width="1.8"/>
<line x1="262.85" y1="586.0" x2="262.85" y2="547.4" stroke="#505050" stroke-width="1.0" stroke-linecap="butt"/>
<line x1="258.1" y1="547.9" x2="267.6" y2="547.9" stroke="#505050" stroke-width="1.0" stroke-linecap="butt"/>
<rect x="253.4" y="585.9" width="18.899999999999988" height="46.80000000000005" fill="#808080" stroke="#000" stroke-width="1.8"/>
<line x1="293.95" y1="540.4" x2="293.95" y2="510.3" stroke="#505050" stroke-width="1.0" stroke-linecap="butt"/>
<line x1="289.2" y1="510.8" x2="298.7" y2="510.8" stroke="#505050" stroke-width="1.0" stroke-linecap="butt"/>
<rect x="284.59999999999997" y="540.3" width="18.7" height="92.40000000000006" fill="#d4d4d4" stroke="#000" stroke-width="1.8"/>
<path d="M114.6 584.0 L114.6 573.8 L149.4 573.8 L149.4 584.0" fill="none" stroke="#000" stroke-width="2" stroke-linejoin="miter"/>
<line x1="131.7" y1="561.85" x2="131.7" y2="567.95" stroke="#000" stroke-width="1.5" stroke-linecap="butt"/>
<line x1="129.06" y1="563.38" x2="134.34" y2="566.42" stroke="#000" stroke-width="1.5" stroke-linecap="butt"/>
<line x1="134.34" y1="563.38" x2="129.06" y2="566.42" stroke="#000" stroke-width="1.5" stroke-linecap="butt"/>
<path d="M196.9 545.4 L196.9 537.4 L263.0 537.4 L263.0 545.4" fill="none" stroke="#000" stroke-width="2" stroke-linejoin="miter"/>
<line x1="229.8" y1="525.15" x2="229.8" y2="531.25" stroke="#000" stroke-width="1.5" stroke-linecap="butt"/>
<line x1="227.16" y1="526.68" x2="232.44" y2="529.73" stroke="#000" stroke-width="1.5" stroke-linecap="butt"/>
<line x1="232.44" y1="526.68" x2="227.16" y2="529.73" stroke="#000" stroke-width="1.5" stroke-linecap="butt"/>
<path d="M227.2 495.2 L227.2 478.0 L295.9 478.0 L295.9 495.2" fill="none" stroke="#000" stroke-width="2" stroke-linejoin="miter"/>
<line x1="254.0" y1="465.95" x2="254.0" y2="472.05" stroke="#000" stroke-width="1.5" stroke-linecap="butt"/>
<line x1="251.36" y1="467.48" x2="256.64" y2="470.52" stroke="#000" stroke-width="1.5" stroke-linecap="butt"/>
<line x1="256.64" y1="467.48" x2="251.36" y2="470.52" stroke="#000" stroke-width="1.5" stroke-linecap="butt"/>
<line x1="261.5" y1="465.95" x2="261.5" y2="472.05" stroke="#000" stroke-width="1.5" stroke-linecap="butt"/>
<line x1="258.86" y1="467.48" x2="264.14" y2="470.52" stroke="#000" stroke-width="1.5" stroke-linecap="butt"/>
<line x1="264.14" y1="467.48" x2="258.86" y2="470.52" stroke="#000" stroke-width="1.5" stroke-linecap="butt"/>
<line x1="269.0" y1="465.95" x2="269.0" y2="472.05" stroke="#000" stroke-width="1.5" stroke-linecap="butt"/>
<line x1="266.36" y1="467.48" x2="271.64" y2="470.52" stroke="#000" stroke-width="1.5" stroke-linecap="butt"/>
<line x1="271.64" y1="467.48" x2="266.36" y2="470.52" stroke="#000" stroke-width="1.5" stroke-linecap="butt"/>
<path d="M257.2 502.4 L257.2 495.3 L294.0 495.3 L294.0 502.4" fill="none" stroke="#000" stroke-width="2" stroke-linejoin="miter"/>
<line x1="271.95" y1="483.35" x2="271.95" y2="489.45" stroke="#000" stroke-width="1.5" stroke-linecap="butt"/>
<line x1="269.31" y1="484.88" x2="274.59" y2="487.92" stroke="#000" stroke-width="1.5" stroke-linecap="butt"/>
<line x1="274.59" y1="484.88" x2="269.31" y2="487.92" stroke="#000" stroke-width="1.5" stroke-linecap="butt"/>
<line x1="279.45" y1="483.35" x2="279.45" y2="489.45" stroke="#000" stroke-width="1.5" stroke-linecap="butt"/>
<line x1="276.81" y1="484.88" x2="282.09" y2="487.92" stroke="#000" stroke-width="1.5" stroke-linecap="butt"/>
<line x1="282.09" y1="484.88" x2="276.81" y2="487.92" stroke="#000" stroke-width="1.5" stroke-linecap="butt"/>
<text x="100.9" y="648.9" font-size="10.1" font-weight="bold" text-anchor="middle" fill="#111" >Standing episodes</text>
<text x="247.0" y="648.9" font-size="10.05" font-weight="bold" text-anchor="middle" fill="#111" >Immobility duration (s)</text>
<rect x="346.29999999999995" y="506.0" width="12.0" height="5.1000000000000005" fill="#000" stroke="#000" stroke-width="1.8"/>
<text x="367.5" y="511.90000000000003" font-size="10.8" font-weight="normal" text-anchor="start" fill="#222" >WTD</text>
<rect x="346.29999999999995" y="524.0" width="12.0" height="5.1000000000000005" fill="#a1a0a5" stroke="#000" stroke-width="1.8"/>
<text x="367.5" y="529.9" font-size="10.8" font-weight="normal" text-anchor="start" fill="#222" >KOD</text>
<rect x="346.29999999999995" y="542.0" width="12.0" height="5.1000000000000005" fill="#808080" stroke="#000" stroke-width="1.8"/>
<text x="367.5" y="547.9" font-size="10.8" font-weight="normal" text-anchor="start" fill="#222" >WTA</text>
<rect x="346.29999999999995" y="560.0" width="12.0" height="5.1000000000000005" fill="#d4d4d4" stroke="#000" stroke-width="1.8"/>
<text x="367.5" y="565.9" font-size="10.8" font-weight="normal" text-anchor="start" fill="#222" >KOA</text>
<text x="48.7" y="426.8" font-size="10.8" fill="#1c1c1c" xml:space="preserve" textLength="61.0" lengthAdjust="spacingAndGlyphs"><tspan>gene </tspan><tspan font-style="italic">p&lt;0.05</tspan></text>
<text x="48.7" y="439.6" font-size="10.8" fill="#1c1c1c" xml:space="preserve" textLength="52.2" lengthAdjust="spacingAndGlyphs"><tspan>AD </tspan><tspan font-style="italic">p&lt;0.05</tspan></text>
<text x="48.7" y="452.9" font-size="10.8" fill="#1c1c1c" xml:space="preserve" textLength="87.3" lengthAdjust="spacingAndGlyphs"><tspan>gene x AD </tspan><tspan font-style="italic">p&gt;0.05</tspan></text>
<text x="208.4" y="426.8" font-size="10.8" fill="#1c1c1c" xml:space="preserve" textLength="61.3" lengthAdjust="spacingAndGlyphs"><tspan>gene </tspan><tspan font-style="italic">p&lt;0.05</tspan></text>
<text x="208.4" y="439.6" font-size="10.8" fill="#1c1c1c" xml:space="preserve" textLength="52.5" lengthAdjust="spacingAndGlyphs"><tspan>AD </tspan><tspan font-style="italic">p&lt;0.05</tspan></text>
<text x="208.4" y="452.9" font-size="10.8" fill="#1c1c1c" xml:space="preserve" textLength="87.3" lengthAdjust="spacingAndGlyphs"><tspan>gene x AD </tspan><tspan font-style="italic">p&lt;0.05</tspan></text>
</svg>
</body></html>
